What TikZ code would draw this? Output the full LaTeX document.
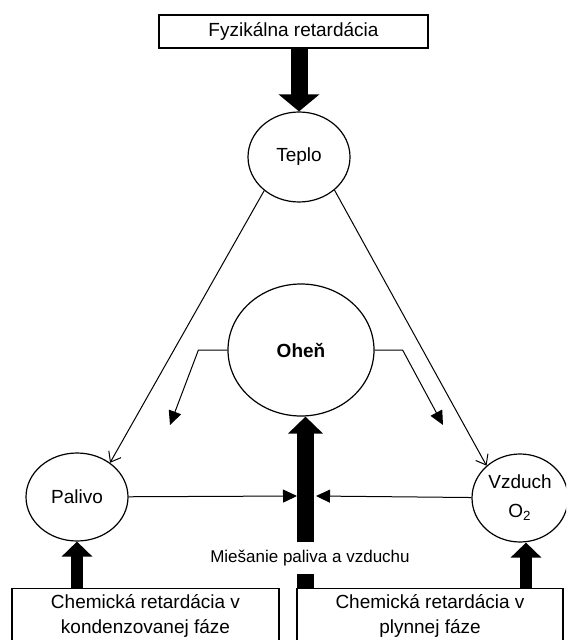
\documentclass[tikz,border=0pt]{standalone}
\usepackage{fontspec}
\setmainfont{Liberation Sans}
\usetikzlibrary{arrows.meta,shapes.geometric}

\begin{document}
\begin{tikzpicture}[x=0.5pt, y=-0.5pt,
	every node/.style={font=\fontsize{9.5}{12.5}\selectfont},
	blob/.style={draw, ellipse, line width=0.6pt, inner sep=0pt, align=center},
	panel/.style={draw, rectangle, line width=0.6pt, inner sep=0pt},
	flow/.style={line width=0.5pt, -{Straight Barb[length=4.5pt, width=7pt]}},
	feed/.style={line width=0.5pt, -{Triangle[length=7pt, width=6.5pt]}},
	bigpush/.style={line width=8.5pt, -{Triangle[length=8.5pt, width=#1]}},
	bigpush/.default=20pt,
	smallpush/.style={line width=6pt, -{Triangle[length=7.5pt, width=15pt]}}]
	\path[use as bounding box] (0,0) rectangle (566,640);
	\clip (0,0) rectangle (566,640);
	
	\node[panel, minimum width=134.5pt, minimum height=16.5pt] (fyz) at (293.5,31.5) {Fyzikálna retardácia};
	\node[blob, minimum width=51pt, minimum height=45pt] (teplo) at (299,157) {Teplo};
	\node[blob, minimum width=73pt, minimum height=66pt, font=\fontsize{9.5}{12.5}\selectfont\bfseries] (ohen) at (301,350) {Oheň};
	\node[blob, minimum width=51pt, minimum height=44pt] (palivo) at (77,497) {Palivo};
	\node[blob, minimum width=48pt, minimum height=44pt] (vzduch) at (520,498) {Vzduch\\[2pt]O\textsubscript{2}};
	\node[inner ysep=4pt, font=\fontsize{8.5}{10}\selectfont] (mix) at (310,558) {Miešanie paliva a vzduchu};
	
	\node[panel, anchor=north, minimum width=133.5pt, minimum height=40pt] (kond) at (145.5,588) {};
	\node[align=center] (kondtext) at (145.5,615.5) {Chemická retardácia v\\kondenzovanej fáze};
	\node[panel, anchor=north, minimum width=133pt, minimum height=40pt] (plyn) at (430,588) {};
	\node[align=center] (plyntext) at (430,615.5) {Chemická retardácia v\\plynnej fáze};
	
	\coordinate (bar) at (305.5,496);
	\coordinate (mixL) at (297,496);
	\coordinate (mixR) at (316,496);
	\coordinate (ohenL) at (170,425);
	\coordinate (ohenR) at (443,425);
	\coordinate (vzbase) at ([xshift=3pt]vzduch.south);
	
	\draw[bigpush] (teplo.north |- fyz.south) -- (teplo.north);
	\draw[bigpush=17pt] (bar |- mix.north) -- (bar |- ohen.south);
	\draw[line width=8.5pt] (bar |- mix.south) -- (bar |- plyn.north);
	
	\draw[flow] (teplo.224) -- (palivo.46);
	\draw[flow] (teplo.317) -- (vzduch.136);
	
	\draw[feed] (ohen.west) -- ++(-29,0) -- (ohenL);
	\draw[feed] (ohen.east) -- ++(28,0) -- (ohenR);
	\draw[feed] (palivo) -- (mixL);
	\draw[feed] (vzduch) -- (mixR);
	
	\draw[smallpush] (palivo.south |- kond.north) -- (palivo.south);
	\draw[smallpush] (vzbase |- plyn.north) -- (vzbase);
	
\end{tikzpicture}
\end{document}
